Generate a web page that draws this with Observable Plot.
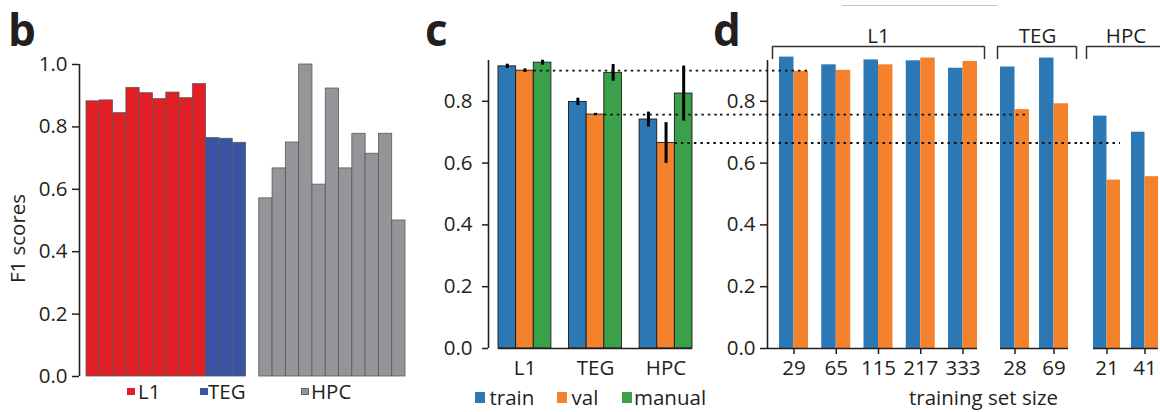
<!DOCTYPE html>
<html><head><meta charset="utf-8">
<script src="https://cdn.jsdelivr.net/npm/d3@7"></script>
<script src="https://cdn.jsdelivr.net/npm/@observablehq/plot@0.6"></script>
<style>
body{margin:0;background:#fff;}
#fig{position:relative;width:1160px;height:412px;overflow:hidden;font-family:"Open Sans",sans-serif;color:#231f20;}
#fig svg{position:absolute;top:0;}
.letter{position:absolute;font-weight:bold;font-size:44px;line-height:44px;}
.leg{position:absolute;font-size:20.5px;line-height:20.5px;white-space:nowrap;}
.sw{position:absolute;}
</style></head><body><div id="fig"></div><script>
// ---------- data ----------
// panel b: per-class F1 scores
const bGroups = ["L1", "TEG", "HPC"];
const bL1 = [0.882, 0.885, 0.844, 0.925, 0.908, 0.889, 0.910, 0.892, 0.937];
const bTEG = [0.764, 0.762, 0.749];
const bHPC = [0.571, 0.667, 0.750, 1.000, 0.615, 0.923, 0.667, 0.778, 0.714, 0.778, 0.500];
const bColors = ["#e31f26", "#3a54a4", "#939598"];
const bTicks = [0, 0.2, 0.4, 0.6, 0.8, 1.0];

// panel c: mean F1 with error
const cGroups = ["L1", "TEG", "HPC"];
const cSeries = ["train", "val", "manual"];
const cTrain = [0.913, 0.798, 0.741];
const cVal = [0.899, 0.757, 0.665];
const cManual = [0.925, 0.892, 0.825];
const cTrainErr = [0.007, 0.012, 0.024];
const cValErr = [0.006, 0.004, 0.066];
const cManualErr = [0.008, 0.027, 0.089];
const cColors = ["#2b78b5", "#f4812c", "#3aa04a"];
const cdTicks = [0, 0.2, 0.4, 0.6, 0.8];

// panel d: training set size
const dL1Sizes = ["29", "65", "115", "217", "333"];
const dL1Train = [0.943, 0.918, 0.934, 0.931, 0.907];
const dL1Val = [0.897, 0.900, 0.918, 0.940, 0.929];
const dTEGSizes = ["28", "69"];
const dTEGTrain = [0.911, 0.940];
const dTEGVal = [0.773, 0.792];
const dHPCSizes = ["21", "41"];
const dHPCTrain = [0.752, 0.700];
const dHPCVal = [0.545, 0.556];

// ---------- helpers ----------
const ink = "#231f20";
const fig = document.getElementById("fig");
const baseStyle = {fontFamily: '"Open Sans", sans-serif', fontSize: "20.5px", color: ink, background: "transparent", overflow: "visible"};
const dotted = {stroke: "#111", strokeWidth: 1.8, strokeDasharray: "2.5,4"};
const axisLine = {stroke: ink, strokeWidth: 1.6};
function place(svg, left) { svg.style.left = left + "px"; svg.style.top = "0px"; svg.style.position = "absolute"; fig.append(svg); }
function addDiv(cls, text, left, top, extra = {}) {
  const d = document.createElement("div"); d.className = cls; d.textContent = text;
  d.style.left = left + "px"; d.style.top = top + "px"; Object.assign(d.style, extra); fig.append(d); return d;
}

// ---------- panel b ----------
const bTable = [];
[bL1, bTEG, bHPC].forEach((arr, gi) => arr.forEach((v, i) => bTable.push({key: bGroups[gi] + "-" + i, group: gi, v})));
const bDomain = [];
bTable.forEach((d, i) => { if (d.group === 2 && bTable[i - 1].group === 1) bDomain.push("spacer"); bDomain.push(d.key); });
const bBand = (420 - 86 - 15) / bDomain.length;

place(Plot.plot({
  width: 420, height: 412, marginLeft: 86, marginRight: 15, marginTop: 64, marginBottom: 36,
  style: baseStyle,
  x: {domain: bDomain, padding: 0, round: false, axis: null},
  y: {domain: [0, 1]},
  color: {type: "identity"},
  marks: [
    Plot.rectY(bTable, {x: "key", y: "v", fill: d => bColors[d.group], stroke: "#5a5a5a", strokeWidth: 0.8}),
    Plot.ruleX([bDomain[0]], {x: d => d, dx: -(bBand / 2 + 7), ...axisLine}),
    Plot.axisY({ticks: bTicks, tickFormat: ".1f", tickSize: 7, tickPadding: 5, dx: -7, strokeWidth: 1.5, label: null}),
    Plot.text(["F1 scores"], {text: d => d, frameAnchor: "left", rotate: -90, dx: -76, dy: 18, textAnchor: "middle", lineAnchor: "top"})
  ]
}), 0);

// ---------- panel c ----------
const cMeans = [cTrain, cVal, cManual], cErrs = [cTrainErr, cValErr, cManualErr];
const cTable = [], cDomain = [];
cGroups.forEach((g, gi) => {
  if (gi > 0) cDomain.push("gap" + gi);
  cSeries.forEach((s, si) => { const key = g + "|" + s; cDomain.push(key); cTable.push({key, group: g, si, v: cMeans[si][gi], e: cErrs[si][gi]}); });
});
const cValRows = cTable.filter(d => d.si === 1);
const cBand = (300 - 78 - 28) / cDomain.length;

place(Plot.plot({
  width: 300, height: 412, marginLeft: 78, marginRight: 28, marginTop: 60, marginBottom: 64,
  style: baseStyle,
  x: {domain: cDomain, padding: 0, round: false},
  y: {domain: [0, 0.932]},
  color: {type: "identity"},
  marks: [
    Plot.rectY(cTable, {x: "key", y: "v", fill: d => cColors[d.si], stroke: "#1a1a1a", strokeWidth: 0.9}),
    Plot.ruleX(cTable, {x: "key", y1: d => d.v - d.e, y2: d => d.v + d.e, stroke: "#000", strokeWidth: 3}),
    Plot.ruleY([0], axisLine),
    Plot.ruleY(cValRows, {y: "v", x1: d => d.group + "|manual", x2: () => cDomain[cDomain.length - 1], insetRight: -28, ...dotted}),
    Plot.ruleX([cDomain[0]], {x: d => d, dx: -(cBand / 2 + 10), ...axisLine}),
    Plot.axisY({ticks: cdTicks, tickFormat: ".1f", tickSize: 6, tickPadding: 10, dx: -10, strokeWidth: 1.5, label: null}),
    Plot.axisX({ticks: cGroups.map(g => g + "|val"), tickFormat: k => k.split("|")[0], tickSize: 0, tickPadding: 12, label: null})
  ]
}), 420);

// ---------- panel d ----------
const bracketRise = 0.977, bracketFoot = 0.935;
function dPanel({gi, sizes, train, val, width, left, mL, mR, pIn, yAxis, brL, brR, rightEnd, labelDx}) {
  const span = width - mL - mR;
  const step = span / (sizes.length - pIn);
  const bw = step * (1 - pIn);
  const table = sizes.map((s, i) => ({size: s, train: train[i], val: val[i]}));
  const lines = cGroups.map((g, i) => ({i, v: cVal[i]})).filter(d => d.i >= gi);
  const first = sizes[0], last = sizes[sizes.length - 1];
  const marks = [
    Plot.rectY(table, {x: "size", y: "train", fill: cColors[0], insetRight: bw / 2}),
    Plot.rectY(table, {x: "size", y: "val", fill: cColors[1], insetLeft: bw / 2}),
    Plot.ruleY([0], {...axisLine, insetLeft: yAxis ? -12 : 0}),
    Plot.axisX({tickSize: 6, tickPadding: 6, strokeWidth: 1.5, label: null}),
    Plot.ruleY(lines.filter(d => d.i === gi), {y: "v", x1: () => first, x2: () => first, insetLeft: -mL, ...dotted}),
    Plot.ruleY(lines.filter(d => d.i > gi), {y: "v", x1: () => first, x2: () => last, insetLeft: -mL, insetRight: -mR, ...dotted}),
    Plot.ruleY([bracketRise], {x1: () => first, x2: () => last, insetLeft: -brL, insetRight: -brR, stroke: "#333", strokeWidth: 1.5}),
    Plot.ruleX([first], {x: d => d, y1: bracketFoot, y2: bracketRise, dx: -(bw / 2 + brL), stroke: "#333", strokeWidth: 1.5}),
    Plot.text([cGroups[gi]], {text: d => d, frameAnchor: "top", dy: -18, dx: labelDx, lineAnchor: "bottom"})
  ];
  if (rightEnd) marks.push(Plot.ruleX([last], {x: d => d, y1: bracketFoot, y2: bracketRise, dx: bw / 2 + brR, stroke: "#333", strokeWidth: 1.5}));
  if (yAxis) {
    marks.push(Plot.ruleX([first], {x: d => d, dx: -(bw / 2 + 12), ...axisLine}));
    marks.push(Plot.axisY({ticks: cdTicks, tickFormat: ".1f", tickSize: 7, tickPadding: 5, dx: -12, strokeWidth: 1.5, label: null}));
  }
  place(Plot.plot({
    width, height: 412, marginLeft: mL, marginRight: mR, marginTop: 60, marginBottom: 64,
    style: baseStyle,
    x: {domain: sizes, paddingInner: pIn, paddingOuter: 0, round: false},
    y: {domain: [0, 0.932], axis: yAxis ? undefined : null},
    marks
  }), left);
}
dPanel({gi: 0, sizes: dL1Sizes, train: dL1Train, val: dL1Val, width: 270, left: 720, mL: 59, mR: 13, pIn: 0.314, yAxis: true, brL: 7, brR: 7, rightEnd: true, labelDx: 0});
dPanel({gi: 1, sizes: dTEGSizes, train: dTEGTrain, val: dTEGVal, width: 90, left: 990, mL: 10, mR: 12, pIn: 0.256, yAxis: false, brL: 3, brR: 8, rightEnd: true, labelDx: 3});
dPanel({gi: 2, sizes: dHPCSizes, train: dHPCTrain, val: dHPCVal, width: 80, left: 1080, mL: 13, mR: 2, pIn: 0.289, yAxis: false, brL: 7, brR: 20, rightEnd: false, labelDx: 0});

// ---------- letters, legends, labels ----------
addDiv("letter", "b", 8, 7);
addDiv("letter", "c", 425, 7);
addDiv("letter", "d", 713, 7);
addDiv("leg", "training set size", 909, 387);
// panel b legend
[[127, 138], [200, 208], [301, 311]].forEach(([sx, tx], i) => {
  addDiv("sw", "", sx, 388, {width: "8px", height: "7px", background: bColors[i], boxSizing: "border-box", border: i === 2 ? "1px solid #666" : "none"});
  addDiv("leg", bGroups[i], tx, 381);
});
// panel c legend
[[475, 489.5], [557, 571.5], [622, 634]].forEach(([sx, tx], i) => {
  addDiv("sw", "", sx, 392, {width: "10px", height: "11px", background: cColors[i]});
  addDiv("leg", cSeries[i], tx, 387);
});
// faint line at top of panel d
addDiv("sw", "", 842, 5, {width: "155px", height: "1px", background: "#c4c4c4"});
</script></body></html>
